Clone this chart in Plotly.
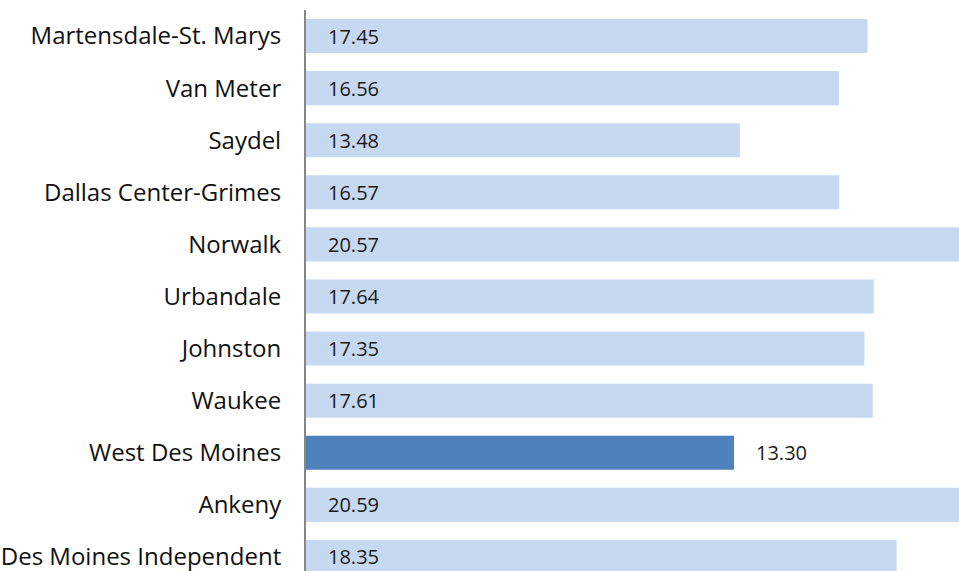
import plotly.graph_objects as go

districts = ["Martensdale-St. Marys", "Van Meter", "Saydel", "Dallas Center-Grimes",
             "Norwalk", "Urbandale", "Johnston", "Waukee", "West Des Moines",
             "Ankeny", "Des Moines Independent"]
values = [17.45, 16.56, 13.48, 16.57, 20.57, 17.64, 17.35, 17.61, 13.30, 20.59, 18.35]
highlight = "West Des Moines"

LIGHT = "#C6D9F1"
DARK = "#4F81BD"
FONT = "Open Sans"

colors = [DARK if d == highlight else LIGHT for d in districts]
idx = list(range(len(districts)))

fig = go.Figure(go.Bar(
    x=values, y=idx, orientation="h",
    marker=dict(color=colors, line=dict(width=0)),
    width=0.654, hoverinfo="skip",
))

for i, (d, v) in enumerate(zip(districts, values)):
    fig.add_annotation(x=(v if d == highlight else 0), y=i, text=f"{v:.2f}", showarrow=False,
                       xanchor="left", xshift=20,
                       font=dict(size=20, color="#1a1a1a", family=FONT))

fig.update_layout(
    width=959, height=571,
    margin=dict(l=306, r=0, t=10, b=0),
    paper_bgcolor="white", plot_bgcolor="white",
    showlegend=False,
    xaxis=dict(range=[0, 20.29], visible=False, fixedrange=True),
    yaxis=dict(range=[10.27, -0.5], tickmode="array", tickvals=idx, ticktext=districts,
               tickfont=dict(size=24, color="#111111", family=FONT),
               ticks="outside", ticklen=18, tickcolor="rgba(0,0,0,0)",
               ticklabeloverflow="allow",
               showline=True, linecolor="#868686", linewidth=2, showgrid=False,
               zeroline=False, fixedrange=True),
)

fig.write_html("out.html", config={"displayModeBar": False},
               post_script="document.body.style.margin='0';document.body.style.overflow='hidden';")
